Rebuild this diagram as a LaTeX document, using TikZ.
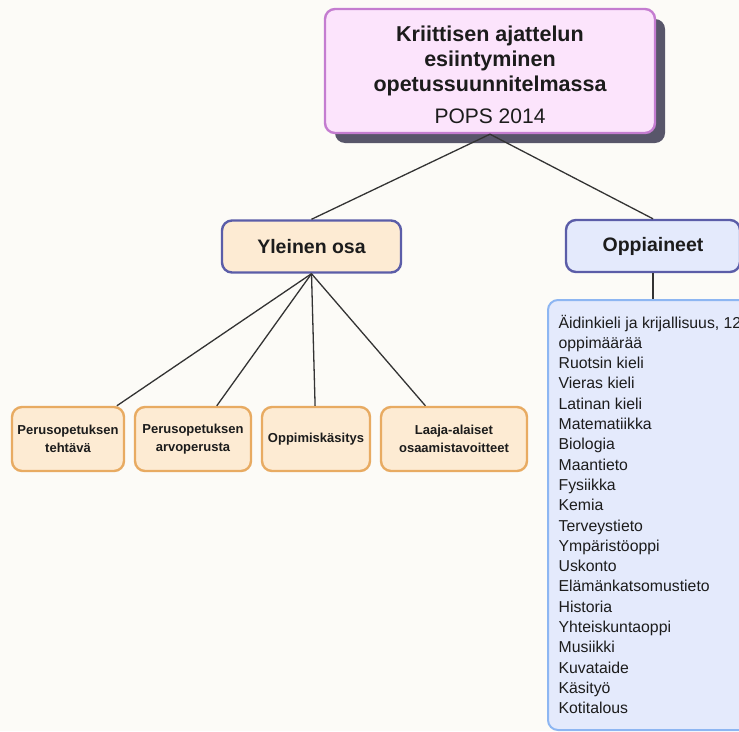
\documentclass[tikz,border=0pt]{standalone}
\usepackage{fontspec}
\setmainfont{Liberation Sans}
\usetikzlibrary{calc}

\definecolor{paper}{HTML}{FCFBF7}
\definecolor{ink}{HTML}{1C1C1C}
\definecolor{rootfill}{HTML}{FCE4FC}
\definecolor{rootline}{HTML}{C47DD0}
\definecolor{shadowgray}{HTML}{58566A}
\definecolor{peach}{HTML}{FDEBD3}
\definecolor{orangeline}{HTML}{E8AB62}
\definecolor{bluefill}{HTML}{E4EAFC}
\definecolor{violetline}{HTML}{5B5DA8}
\definecolor{listline}{HTML}{8DB6F2}

\begin{document}
\begin{tikzpicture}[x=1pt, y=-1pt, line width=1.3pt, text=ink,
  box/.style={rounded corners=10pt, line width=2.4pt, inner sep=0pt, align=center},
  topic/.style={box, draw=violetline, minimum height=52pt,
                font=\bfseries\fontsize{19.5}{23}\selectfont},
  part/.style={box, draw=orangeline, fill=peach, minimum height=64pt,
               font=\bfseries\fontsize{13}{18}\selectfont},
  subject/.style={anchor=base west, inner sep=0pt, font=\fontsize{15.8}{19}\selectfont},
  link/.style={draw=ink!90}
]
  \useasboundingbox (0,0) rectangle (739,731);
  \clip (0,0) rectangle (739,731);
  \fill[paper] (0,0) rectangle (739,731);

  % ---------- title box ----------
  \fill[shadowgray, rounded corners=10pt] (335,19) rectangle (665,143);
  \node[box, draw=rootline, fill=rootfill, minimum width=330pt, minimum height=124pt] (root) at (490,71) {};
  \node[align=center, inner sep=0pt, font=\bfseries\fontsize{21.5}{25}\selectfont] (rootText)
       at ([yshift=-3.8pt]root.center)
       {Kriittisen ajattelun\\esiintyminen\\opetussuunnitelmassa\\[7pt]{\mdseries\fontsize{21}{25}\selectfont POPS 2014}};

  % ---------- main branches ----------
  \node[topic, fill=peach, minimum width=179pt] (general) at (311.5,246.5) {Yleinen osa};
  \node[topic, fill=bluefill, minimum width=174pt] (subjectsHead) at (653,246) {Oppiaineet};

  \draw[link] (root.south) -- (general.north);
  \draw[link] (root.south) -- (subjectsHead.north);

  % ---------- general part ----------
  \node[part, minimum width=112pt] (task)     at (68,439)  {Perusopetuksen\\tehtävä};
  \node[part, minimum width=116pt] (values)   at (193,439) {Perusopetuksen\\arvoperusta};
  \node[part, minimum width=108pt] (learning) at (316,439) {Oppimiskäsitys};
  \node[part, minimum width=146pt] (skills)   at (454,439) {Laaja-alaiset\\osaamistavoitteet};

  \foreach \n in {task,values,learning,skills}{
    \draw[link] (general.south) -- (\n);
  }

  % ---------- subject list ----------
  \node[box, line width=2pt, draw=listline, fill=bluefill, minimum width=220pt, minimum height=430pt] (subjects) at (658,515) {};
  \draw[link] (subjectsHead.south) -- (subjectsHead.south |- subjects.north);

  \foreach \s [count=\i from 0] in {%
      {Äidinkieli ja krijallisuus, 12}, oppimäärää, Ruotsin kieli, Vieras kieli,
      Latinan kieli, Matematiikka, Biologia, Maantieto, Fysiikka, Kemia,
      Terveystieto, Ympäristöoppi, Uskonto, Elämänkatsomustieto, Historia,
      Yhteiskuntaoppi, Musiikki, Kuvataide, Käsityö, Kotitalous}{
    \node[subject] (sub\i) at (558,328+20.3*\i) {\s};
  }

\end{tikzpicture}
\end{document}
